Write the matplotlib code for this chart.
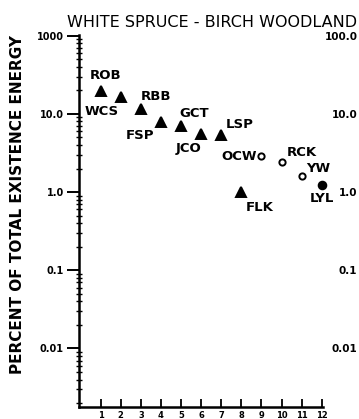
import matplotlib
matplotlib.use("Agg")
import matplotlib.pyplot as plt
from matplotlib.ticker import LogLocator, NullFormatter

species = ["ROB", "WCS", "RBB", "FSP", "GCT", "JCO", "LSP", "FLK", "OCW", "RCK", "YW", "LYL"]
rank = [1, 2, 3, 4, 5, 6, 7, 8, 9, 10, 11, 12]
energy = [19.5, 16.5, 11.6, 7.8, 6.95, 5.6, 5.3, 1.0, 2.85, 2.4, 1.62, 1.24]
marker = ["^", "^", "^", "^", "^", "^", "^", "^", "o", "o", "o", "o"]
filled = [True, True, True, True, True, True, True, True, False, False, False, True]

decades = [100, 10, 1, 0.1, 0.01]
left_labels = ["1000", "10.0", "1.0", "0.1", "0.01"]
right_labels = ["100.0", "10.0", "1.0", "0.1", "0.01"]

# label offsets in points from each marker
offsets = [(3.6, 11.5), (-13.7, -10.8), (10.8, 8.6), (-15.1, -9.4), (9.4, 9.4), (-9.4, -10.8),
           (13, 7.9), (13, -10.8), (-15.8, 0), (14.4, 7.2), (12.2, 5), (0, -10)]

plt.rcParams["font.family"] = ["DejaVu Sans"]

fig = plt.figure(figsize=(3.59, 4.19), dpi=100)
ax = fig.add_axes([0.2201, 0.0294, 0.6788, 0.8871])
ax.set_yscale("log")
ax.set_ylim(0.0018, 102)
ax.set_xlim(-0.08, 12.05)

for i in range(len(species)):
    fc = "black" if filled[i] else "white"
    if marker[i] == "^":
        ms = 7.5
    elif filled[i]:
        ms = 5.5
    else:
        ms = 4.5
    ax.plot(rank[i], energy[i], marker=marker[i], ms=ms, mfc=fc, mec="black",
            mew=1.4, ls="none", clip_on=False)
    ax.annotate(species[i], (rank[i], energy[i]), xytext=offsets[i], textcoords="offset points",
                ha="center", va="center", fontsize=9.5, fontweight="bold")

for s in ["top", "right"]:
    ax.spines[s].set_visible(False)
ax.spines["left"].set_linewidth(1.8)
ax.spines["bottom"].set_linewidth(1.8)

ax.set_yticks(decades)
ax.set_yticklabels(left_labels, fontsize=7, fontweight="bold")
ax.yaxis.set_minor_locator(LogLocator(base=10, subs=[2, 3, 4, 5, 6, 7, 8, 9]))
ax.yaxis.set_minor_formatter(NullFormatter())
ax.tick_params(axis="y", which="major", direction="out", length=9, width=1.4, pad=2)
ax.tick_params(axis="y", which="minor", direction="inout", length=5, width=1.0)

ax.set_xticks(rank)
ax.set_xticklabels([str(r) for r in rank], fontsize=6, fontweight="bold")
ax.tick_params(axis="x", direction="in", length=6, width=1.3, pad=3)

ax2 = ax.twinx()
ax2.set_yscale("log")
ax2.set_ylim(ax.get_ylim())
for s in ["top", "right", "left", "bottom"]:
    ax2.spines[s].set_visible(False)
ax2.set_yticks(decades)
ax2.set_yticklabels(right_labels, fontsize=7.5, fontweight="bold")
ax2.yaxis.set_minor_formatter(NullFormatter())
ax2.tick_params(axis="y", which="both", length=0, pad=25)
for lab in ax2.get_yticklabels():
    lab.set_horizontalalignment("right")

fig.text(0.592, 0.946, "WHITE SPRUCE - BIRCH WOODLAND", ha="center", va="center", fontsize=11.5)
fig.text(0.049, 0.513, "PERCENT OF TOTAL EXISTENCE ENERGY", rotation=90, ha="center", va="center",
         fontsize=11, fontweight="bold")

fig.savefig("out.png", dpi=100)
